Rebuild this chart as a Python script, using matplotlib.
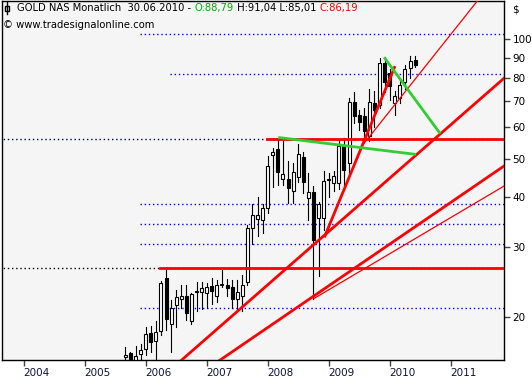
import matplotlib
matplotlib.use("Agg")
import matplotlib.pyplot as plt
from matplotlib.patches import Rectangle
from matplotlib.lines import Line2D
import numpy as np

plt.rcParams["font.family"] = "DejaVu Sans"

# Monatskerzen GOLD NAS, Sep 2005 bis Jun 2010
start_year, start_month = 2005, 9
opens  = [15.8, 16.2, 15.6, 16.1,
          16.6, 18.2, 17.4, 18.4, 25.0, 19.2, 21.4, 22.2, 22.6, 19.5, 23.1, 23.1,
          23.0, 23.9, 22.6, 24.1, 24.1, 23.8, 22.2, 22.6, 24.5, 33.5, 35.2, 35.1,
          37.5, 51.2, 52.8, 44.6, 44.4, 41.6, 45.1, 50.4, 39.8, 41.2, 35.4, 35.4,
          44.2, 43.4, 43.5, 54.0, 48.7, 69.6, 64.4, 64.1, 57.0, 69.3, 68.3, 87.0,
          82.1, 69.0, 71.0, 78.2, 84.5, 88.79]
highs  = [16.8, 16.3, 16.9, 17.1,
          18.8, 19.0, 19.5, 24.6, 26.5, 22.0, 23.4, 24.0, 24.0, 22.9, 24.5, 24.5,
          24.3, 25.0, 24.8, 26.3, 24.9, 24.7, 24.7, 25.5, 34.0, 38.4, 40.0, 38.4,
          50.8, 53.3, 56.1, 55.5, 49.5, 48.8, 54.5, 52.0, 46.0, 42.6, 39.0, 46.6,
          46.0, 46.6, 56.0, 56.5, 71.0, 73.8, 66.3, 67.0, 75.0, 74.0, 89.5, 90.2,
          84.0, 74.0, 79.0, 86.0, 91.0, 91.04]
lows   = [15.0, 15.0, 15.0, 15.2,
          16.0, 16.3, 15.4, 18.0, 18.5, 16.3, 18.9, 21.0, 19.6, 19.2, 20.7, 20.9,
          21.0, 21.6, 21.8, 23.8, 22.6, 21.0, 20.8, 20.7, 24.0, 30.6, 32.0, 32.6,
          36.5, 42.5, 43.0, 43.0, 38.7, 38.8, 43.6, 41.0, 35.0, 22.2, 25.3, 33.0,
          40.0, 41.4, 42.0, 41.7, 46.0, 61.4, 59.0, 55.8, 55.5, 60.0, 67.0, 73.5,
          70.5, 64.4, 69.0, 75.0, 80.0, 85.01]
closes = [16.0, 15.7, 15.9, 16.5,
          18.1, 17.3, 18.3, 24.4, 19.7, 21.1, 22.4, 22.6, 20.5, 22.8, 23.2, 23.7,
          23.8, 23.2, 24.1, 24.2, 23.6, 22.2, 23.1, 24.1, 33.5, 36.1, 36.0, 37.5,
          47.9, 51.9, 46.4, 45.7, 42.3, 46.2, 51.3, 43.8, 41.3, 31.2, 38.4, 44.0,
          44.5, 45.3, 54.0, 47.0, 69.6, 64.1, 62.0, 58.6, 69.6, 66.3, 87.3, 78.2,
          76.1, 72.0, 76.7, 84.1, 88.0, 86.19]

years = [2004, 2005, 2006, 2007, 2008, 2009, 2010, 2011]
price_ticks = [20, 30, 40, 50, 60, 70, 80, 90, 100]

# gepunktete Kursniveaus (Niveau, Startdatum, Farbe)
dot_levels = [103.1, 81.8, 56.2, 38.5, 34.2, 30.6, 26.5, 21.05]
dot_starts = [2005.91, 2006.40, 2003.60, 2005.91, 2005.91, 2005.91, 2003.60, 2005.91]
dot_colors = ["#0000ff", "#0000ff", "#000050", "#0000ff", "#0000ff", "#0000ff",
              "#000000", "#0000ff"]

# Horizontale Widerstaende (Start, Kurs)
hlines = [(2007.99, 56.2), (2006.23, 26.5)]

# Trendlinien: Punkt1, Punkt2, Verlaengerung, Farbe, Breite
trend = [
    ((2006.59, 15.57), (2011.874, 79.8), "both", "#ff0000", 2.0),
    ((2007.221, 15.57), (2011.874, 47.96), "both", "#ff0000", 2.0),
    ((2008.75, 22.2), (2011.874, 42.7), "right", "#ff0000", 0.9),
    ((2009.513, 53.1), (2011.426, 124.3), "right", "#ff0000", 0.9),
    ((2008.928, 31.7), (2010.087, 85.6), "none", "#ff0000", 2.0),
    ((2008.174, 56.6), (2010.431, 51.3), "none", "#33cc33", 2.0),
    ((2009.909, 90.1), (2010.827, 57.9), "none", "#33cc33", 2.0),
]

x0, x1 = 2003.644, 2011.874
y0, y1 = 15.57, 124.9

fig = plt.figure(figsize=(5.32, 3.80), dpi=100)
ax = fig.add_axes([2 / 532, 20 / 380, 502 / 532, 359 / 380])
ax.set_facecolor("#f5f5f5")
ax.set_yscale("log")
ax.set_xlim(x0, x1)
ax.set_ylim(y0, y1)

for lvl, st, c in zip(dot_levels, dot_starts, dot_colors):
    ax.plot([st, x1], [lvl, lvl], color=c, lw=1.0, ls=(0, (1, 2)), zorder=1)

# Kerzen
t = [start_year + (start_month - 1 + i) / 12 for i in range(len(opens))]
bw = 0.05
for ti, o, h, l, c in zip(t, opens, highs, lows, closes):
    ax.plot([ti, ti], [l, h], color="black", lw=0.8, zorder=3)
    up = c >= o
    ax.add_patch(Rectangle((ti - bw / 2, min(o, c)), bw, abs(c - o),
                           facecolor="white" if up else "black",
                           edgecolor="black", lw=0.8, zorder=4))

for st, lvl in hlines:
    ax.plot([st, x1], [lvl, lvl], color="#ff0000", lw=2.0, zorder=5)

for (ta, pa), (tb, pb), ext, col, lw in trend:
    k = (np.log10(pb) - np.log10(pa)) / (tb - ta)
    ts = x0 - 1 if ext == "both" else ta
    te = x1 + 1 if ext in ("both", "right") else tb
    ys = 10 ** (np.log10(pa) + k * (ts - ta))
    ye = 10 ** (np.log10(pa) + k * (te - ta))
    ax.plot([ts, te], [ys, ye], color=col, lw=lw, zorder=5, solid_capstyle="butt")

for s in ax.spines.values():
    s.set_color("black")
    s.set_linewidth(1.0)

ax.yaxis.tick_right()
ax.set_yticks(price_ticks)
ax.set_yticklabels([str(p) for p in price_ticks])
ax.yaxis.set_minor_locator(matplotlib.ticker.NullLocator())
ax.tick_params(axis="y", length=4, width=1, color="#444444", pad=2, labelsize=7.5)

ax.set_xticks(years)
ax.set_xticklabels([str(y) for y in years])
ax.tick_params(axis="x", length=4, width=1, color="#444444", pad=2, labelsize=7.5,
               labelcolor="#10103a")
for lab in ax.get_xticklabels():
    lab.set_ha("left")

fig.text(512 / 532, 1 - 10 / 380, "$", fontsize=7.5, ha="left", va="center")

# Kopfzeile
renderer = fig.canvas.get_renderer()
parts = [("GOLD NAS Monatlich  30.06.2010 - ", "black"), ("O:88,79", "#00b000"),
         (" H:91,04 L:85,01 ", "black"), ("C:86,19", "#ff0000")]
xpos = 17 / 532
for txt, col in parts:
    tx = fig.text(xpos, 1 - 8 / 380, txt, fontsize=7.2, color=col, ha="left", va="center")
    bb = tx.get_window_extent(renderer=renderer)
    xpos += bb.width / 532
fig.text(3 / 532, 1 - 25 / 380, "\u00a9 www.tradesignalonline.com", fontsize=7.2,
         ha="left", va="center")

# kleines Kerzensymbol
fig.add_artist(Line2D([6.5 / 532, 6.5 / 532], [1 - 2 / 380, 1 - 14 / 380],
                      color="black", lw=1, transform=fig.transFigure))
fig.add_artist(Rectangle((4.5 / 532, 1 - 11 / 380), 4 / 532, 5 / 380, facecolor="white",
                         edgecolor="black", lw=1, transform=fig.transFigure))

fig.savefig("out.png", dpi=100)
